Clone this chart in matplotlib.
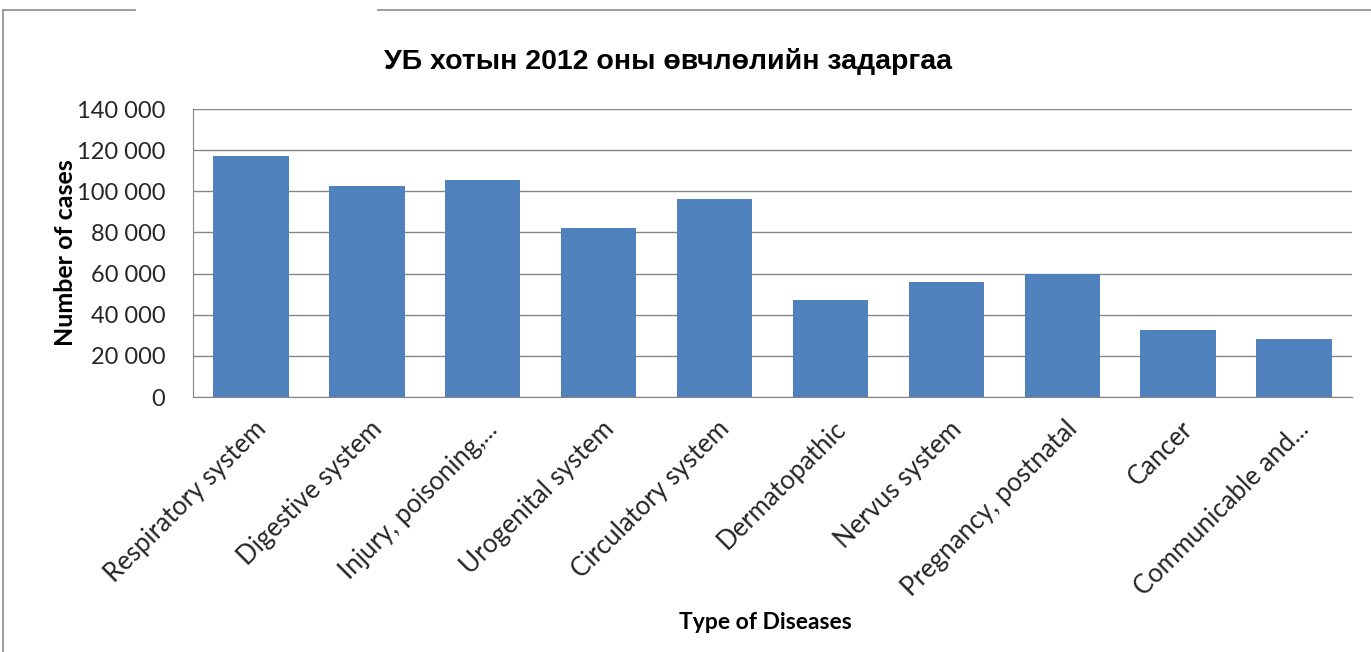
import matplotlib
matplotlib.use("Agg")
from matplotlib import pyplot as plt
from matplotlib.lines import Line2D
from matplotlib.ticker import FuncFormatter, MultipleLocator

# Disease counts, Ulaanbaatar 2012
categories = [
    "Respiratory system",
    "Digestive system",
    "Injury, poisoning,...",
    "Urogenital system",
    "Circulatory system",
    "Dermatopathic",
    "Nervus system",
    "Pregnancy, postnatal",
    "Cancer",
    "Communicable and...",
]
cases = [117200, 102600, 105500, 82200, 96300, 47200, 55900, 59600, 32500, 28000]

title = "УБ хотын 2012 оны өвчлөлийн задаргаа"
bar_color = "#4F81BD"
grid_color = "#868686"

plt.rcParams["font.family"] = ["Lato", "DejaVu Sans"]

fig = plt.figure(figsize=(13.71, 6.52), dpi=100)
ax = fig.add_axes([0.1408, 0.3911, 0.8453, 0.4417])

x = list(range(len(categories)))
ax.bar(x, cases, width=0.65, color=bar_color, zorder=2)

ax.set_xlim(-0.5, len(categories) - 0.5)
ax.set_ylim(0, 140000)
ax.yaxis.set_major_locator(MultipleLocator(20000))
ax.yaxis.set_major_formatter(
    FuncFormatter(lambda v, _: f"{int(v):,}".replace(",", " "))
)
ax.grid(axis="y", color=grid_color, lw=1.0, zorder=1)

for side in ("top", "right"):
    ax.spines[side].set_visible(False)
for side in ("left", "bottom"):
    ax.spines[side].set_color(grid_color)
    ax.spines[side].set_zorder(3)

ax.tick_params(axis="y", length=0, pad=20, labelsize=17, labelcolor="#262626")
ax.tick_params(axis="x", length=0, pad=14, labelsize=18.5, labelcolor="#262626")
# labels sit just right of the bar centres
ax.set_xticks([i + 0.02 for i in x])
ax.set_xticklabels(categories, rotation=45, ha="right", rotation_mode="anchor")

ax.set_ylabel("Number of cases", fontsize=18, fontweight="bold", labelpad=0)
ax.yaxis.set_label_coords(-0.1, 0.5)
fig.text(0.558, 0.045, "Type of Diseases", fontsize=16.5, fontweight="bold",
         ha="center", va="center")
fig.text(0.487, 0.905, title, fontsize=20.5, fontweight="bold",
         family="Liberation Sans", ha="center", va="center")

# chart frame
frame_kw = dict(color="#8c8c8c", lw=1.2, transform=fig.transFigure)
fig.add_artist(Line2D([0.0025, 0.0025], [0.0, 0.984], **frame_kw))
fig.add_artist(Line2D([0.0025, 0.0985], [0.984, 0.984], **frame_kw))
fig.add_artist(Line2D([0.276, 1.0], [0.984, 0.984], **frame_kw))

fig.savefig("out.png", dpi=100)
